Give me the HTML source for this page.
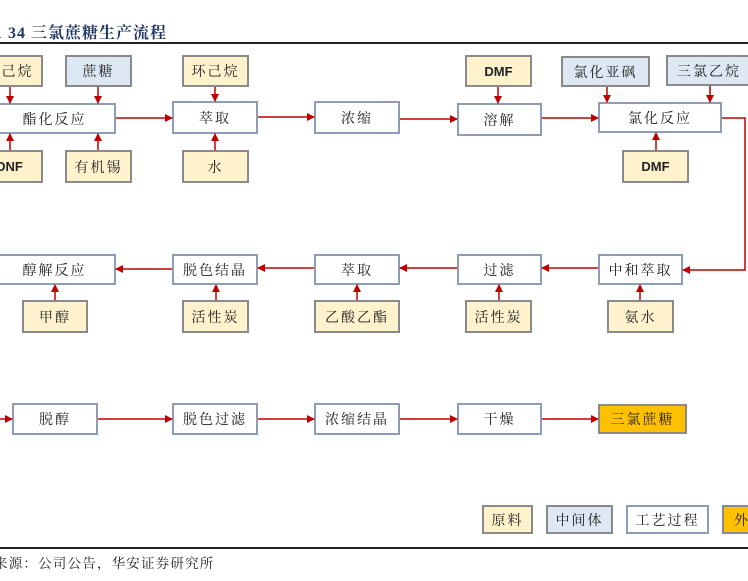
<!DOCTYPE html>
<html><head><meta charset="utf-8"><style>
body{margin:0;width:748px;height:581px;background:#fff;position:relative;overflow:hidden;font-family:"Liberation Serif","Noto Serif CJK SC",serif;}
.b{position:absolute;box-sizing:border-box;display:flex;align-items:center;justify-content:center;font-size:14px;color:#222;letter-spacing:2px;white-space:nowrap}
.p{background:#fff;border:2px solid #8e9db3}
.y{background:#fff2cc;border:2px solid #8a8a8a}
.u{background:#dde8f4;border:2px solid #8a8a8a}
.o{background:#ffc000;border:2px solid #8a8a8a}
.d{font-family:"Liberation Sans",sans-serif;font-weight:bold;letter-spacing:0;font-size:13px}
</style></head><body>
<div style="position:absolute;left:-6px;top:20px;font-size:16px;font-weight:bold;color:#1f3864;letter-spacing:1px;white-space:nowrap">1 34 三氯蔗糖生产流程</div>
<div style="position:absolute;left:0;top:42px;width:748px;height:1.5px;background:#222"></div>
<div class="b y" style="left:-24px;top:55px;width:67px;height:32px">环己烷</div>
<div class="b u" style="left:65px;top:55px;width:67px;height:32px">蔗糖</div>
<div class="b y" style="left:182px;top:55px;width:67px;height:32px">环己烷</div>
<div class="b y d" style="left:465px;top:55px;width:67px;height:32px">DMF</div>
<div class="b u" style="left:561px;top:56px;width:89px;height:31px">氯化亚砜</div>
<div class="b u" style="left:666px;top:55px;width:86px;height:31px">三氯乙烷</div>
<div class="b p" style="left:-7px;top:103px;width:123px;height:31px">酯化反应</div>
<div class="b p" style="left:172px;top:101px;width:86px;height:33px">萃取</div>
<div class="b p" style="left:314px;top:101px;width:86px;height:33px">浓缩</div>
<div class="b p" style="left:457px;top:103px;width:85px;height:33px">溶解</div>
<div class="b p" style="left:598px;top:102px;width:124px;height:31px">氯化反应</div>
<div class="b y d" style="left:-24px;top:150px;width:67px;height:33px">DNF</div>
<div class="b y" style="left:65px;top:150px;width:67px;height:33px">有机锡</div>
<div class="b y" style="left:182px;top:150px;width:67px;height:33px">水</div>
<div class="b y d" style="left:622px;top:150px;width:67px;height:33px">DMF</div>
<div class="b p" style="left:-7px;top:254px;width:123px;height:31px">醇解反应</div>
<div class="b p" style="left:172px;top:254px;width:86px;height:31px">脱色结晶</div>
<div class="b p" style="left:314px;top:254px;width:86px;height:31px">萃取</div>
<div class="b p" style="left:457px;top:254px;width:85px;height:31px">过滤</div>
<div class="b p" style="left:598px;top:254px;width:85px;height:31px">中和萃取</div>
<div class="b y" style="left:22px;top:300px;width:66px;height:33px">甲醇</div>
<div class="b y" style="left:182px;top:300px;width:67px;height:33px">活性炭</div>
<div class="b y" style="left:314px;top:300px;width:86px;height:33px">乙酸乙酯</div>
<div class="b y" style="left:465px;top:300px;width:67px;height:33px">活性炭</div>
<div class="b y" style="left:607px;top:300px;width:67px;height:33px">氨水</div>
<div class="b p" style="left:12px;top:403px;width:86px;height:32px">脱醇</div>
<div class="b p" style="left:172px;top:403px;width:86px;height:32px">脱色过滤</div>
<div class="b p" style="left:314px;top:403px;width:86px;height:32px">浓缩结晶</div>
<div class="b p" style="left:457px;top:403px;width:85px;height:32px">干燥</div>
<div class="b o" style="left:598px;top:404px;width:89px;height:30px">三氯蔗糖</div>
<div class="b y" style="left:482px;top:505px;width:51px;height:29px">原料</div>
<div class="b u" style="left:546px;top:505px;width:67px;height:29px">中间体</div>
<div class="b p" style="left:626px;top:505px;width:83px;height:29px">工艺过程</div>
<div class="b o" style="left:722px;top:505px;width:60px;height:29px;justify-content:flex-start;padding-left:10px">外</div>
<div style="position:absolute;left:0;top:547px;width:748px;height:1.5px;background:#222"></div>
<div style="position:absolute;left:-6px;top:552px;font-size:13.5px;color:#222;letter-spacing:1.2px;white-space:nowrap">来源：公司公告，华安证券研究所</div>
<svg width="748" height="581" style="position:absolute;left:0;top:0" >
<defs><marker id="a" markerWidth="8" markerHeight="8" refX="7" refY="4" orient="auto" markerUnits="userSpaceOnUse"><path d="M0,0 L8,4 L0,8z" fill="#c00000"/></marker></defs>
<g stroke="#c00000" stroke-width="1.5" fill="none" marker-end="url(#a)">
<line x1="10" y1="87" x2="10" y2="103"/>
<line x1="98" y1="87" x2="98" y2="103"/>
<line x1="10" y1="150" x2="10" y2="134"/>
<line x1="98" y1="150" x2="98" y2="134"/>
<line x1="215" y1="87" x2="215" y2="101"/>
<line x1="215" y1="150" x2="215" y2="134"/>
<line x1="498" y1="87" x2="498" y2="103"/>
<line x1="607" y1="87" x2="607" y2="102"/>
<line x1="710" y1="86" x2="710" y2="102"/>
<line x1="656" y1="150" x2="656" y2="133"/>
<line x1="116" y1="118" x2="172" y2="118"/>
<line x1="258" y1="117" x2="314" y2="117"/>
<line x1="400" y1="119" x2="457" y2="119"/>
<line x1="542" y1="118" x2="598" y2="118"/>
<polyline points="722,118 745,118 745,270 683,270"/>
<line x1="598" y1="268" x2="542" y2="268"/>
<line x1="457" y1="268" x2="400" y2="268"/>
<line x1="314" y1="268" x2="258" y2="268"/>
<line x1="172" y1="269" x2="116" y2="269"/>
<line x1="55" y1="300" x2="55" y2="285"/>
<line x1="216" y1="300" x2="216" y2="285"/>
<line x1="357" y1="300" x2="357" y2="285"/>
<line x1="499" y1="300" x2="499" y2="285"/>
<line x1="640" y1="300" x2="640" y2="285"/>
<line x1="0" y1="419" x2="12" y2="419"/>
<line x1="98" y1="419" x2="172" y2="419"/>
<line x1="258" y1="419" x2="314" y2="419"/>
<line x1="400" y1="419" x2="457" y2="419"/>
<line x1="542" y1="419" x2="598" y2="419"/>
</g></svg>
</body></html>
